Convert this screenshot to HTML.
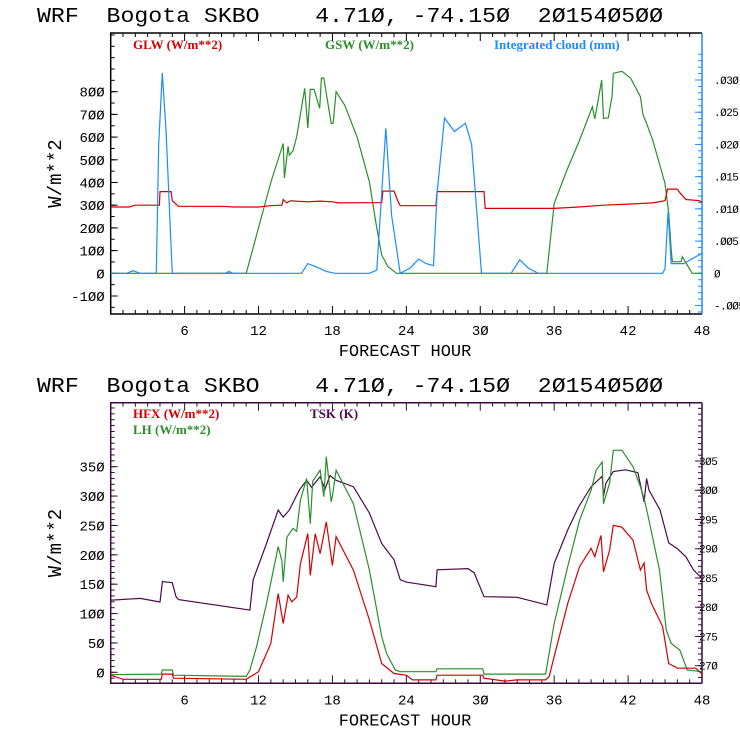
<!DOCTYPE html>
<html><head><meta charset="utf-8"><style>
html,body{margin:0;padding:0;background:#fff;}
svg{display:block;}
.t{font-family:"Liberation Mono",monospace;font-size:21px;fill:#000;white-space:pre;}
.tk{font-family:"Liberation Mono",monospace;font-size:14px;fill:#000;}
.tr{font-family:"Liberation Mono",monospace;font-size:11px;fill:#000;letter-spacing:-0.5px;}
.lg{font-family:"Liberation Serif",serif;font-size:13px;font-weight:bold;}
</style></head><body>
<svg id="c" width="740" height="740" xmlns="http://www.w3.org/2000/svg"></svg>
<script>
// ---- top panel data ----
const glwHours=[0,1.5,2,3.95,4.0,4.9,5.0,5.3,5.5,9,10,12,13,13.9,14,14.3,14.6,15,16,17,18,18.5,21,22,22.1,23,23.3,23.5,26.4,26.5,30.3,30.4,36,38,40,42,44,45,45.2,46,46.2,46.7,47.8,48];
const glwVals=[292,292,300,300,360,360,320,305,295,295,292,292,298,300,325,310,320,318,315,318,315,310,311,311,362,362,320,298,298,360,360,286,286,292,300,305,310,320,371,371,355,325,320,311];
const gswHours=[0,11,12,13,14,14.1,14.4,14.5,14.8,15.1,15.4,15.75,16.0,16.2,16.5,16.97,17.1,17.3,17.9,18.05,18.3,19,20,21,21.5,22,22.5,23.2,35.4,36,37,38.06,39.1,39.3,39.86,40.0,40.4,40.5,40.7,40.8,41.5,42.2,43,43.2,43.5,44,45,45.3,45.5,45.6,46.3,46.4,47.2,48];
const gswVals=[0,0,200,400,572,420,560,520,540,602,700,815,640,810,810,727,860,860,660,661,800,740,600,403,230,80,30,0,0,308,450,587,734,680,851,683,685,720,780,881,890,860,778,700,660,587,397,265,103,51,51,73,0,0];
const cloudHours=[0,1.3,1.8,2.4,3.7,3.9,4.19,4.5,4.9,5.0,9.3,9.6,9.9,15.5,16.0,16.7,17.5,18.2,21.0,21.6,22.33,22.8,23.5,24.3,25.0,25.6,26.2,26.5,27.1,27.9,28.8,29.3,30.1,32.5,33.2,33.9,34.7,44.8,45.0,45.25,45.5,46.5,48];
const cloudVals=[0,0,0.0004,0,0,0.02,0.0311,0.022,0.004,0,0,0.0003,0,0,0.0015,0.001,0.0003,0,0,0.0005,0.0225,0.009,0,0.0008,0.0022,0.0015,0.0012,0.0125,0.0241,0.022,0.0233,0.020,0,0,0.0021,0.0008,0,0,0.0007,0.0096,0.0015,0.0015,0.0031];
// ---- bottom panel data ----
const tskHours=[0,2.4,4,4.2,5,5.3,5.5,11.3,11.57,12.65,13.6,14.0,14.5,15.3,15.9,16.3,17,17.4,17.8,18.3,19.7,21,22,23,23.5,24,26.4,26.5,29,29.5,30.3,33,35.4,36,37.1,38,39,39.9,40.0,40.2,40.8,41.8,42.8,43.3,43.5,43.7,44.6,45.3,46,46.7,47.3,48];
const tskVals=[281.2,281.5,280.9,284.4,284.2,281.8,281.3,279.5,284.7,290.9,296.6,295.4,296.6,300,301.7,300.5,302.3,300.2,302.5,301.7,300.6,296.1,290.9,288.1,284.7,284.3,283.5,286.4,286.6,285.9,281.8,281.7,280.4,287.5,293.2,297.2,300.6,302.4,299,301.2,303.2,303.5,303,298,302,300,296.6,291,290,288.6,286.4,284.9];
const lhHours=[0,4.1,4.2,5,5.1,11,11.3,11.84,12.65,13.6,13.9,14.0,14.3,14.8,15.1,15.4,15.9,16.2,16.4,17,17.3,17.5,17.9,18.0,18.3,19.7,21,22,22.4,23.1,23.5,26.4,26.5,30.2,30.3,35.3,36,37.1,38.06,39.0,39.4,39.9,40.0,40.5,40.8,41.5,42.4,43,43.3,43.7,44.55,45.1,45.5,46.2,46.8,48];
const lhVals=[-4,-3,4,4,-5,-7,4,44,117,214,190,154,230,245,240,293,330,253,325,344,299,367,290,300,344,287,174,61,32,4,1,1,6,6,-3,-3,83,180,259,310,344,358,287,322,378,378,350,316,296,259,174,72,49,38,4,1];
const hfxHours=[0,1,3,4.1,4.2,5,5.1,11,12,13,13.6,14.0,14.4,14.7,15.1,15.4,16,16.2,16.6,17,17.5,18.0,18.3,19.7,21,22,23,24,24.5,26.4,26.5,30.2,30.3,32,33,35.3,35.6,36,37.1,38.06,39,39.3,39.8,40.0,40.5,40.8,41.5,42.4,43,43.3,43.5,43.9,44.8,45.3,46,47.5,48];
const hfxVals=[-5,-12,-12,-12,-3,-3,-10,-12,1,49,134,83,131,120,128,185,236,165,236,202,256,182,231,174,89,15,-2,-5,-13,-13,-5,-5,-10,-15,-13,-13,-7,27,117,180,211,197,233,171,208,250,247,225,174,186,140,117,78,15,7,7,-3];
const topLeftTicks=[-100,0,100,200,300,400,500,600,700,800];
const topRightTicks=[-0.005,0,0.005,0.010,0.015,0.020,0.025,0.030];
const topRightLabels=["-.005","0",".005",".010",".015",".020",".025",".030"];
const botLeftTicks=[0,50,100,150,200,250,300,350];
const botRightTicks=[270,275,280,285,290,295,300,305];
const xTicks=[6,12,18,24,30,36,42,48];

const NS="http://www.w3.org/2000/svg";
const svg=document.getElementById('c');
function mk(tag,attrs,parent){const e=document.createElementNS(NS,tag);for(const k in attrs)e.setAttribute(k,attrs[k]);(parent||svg).appendChild(e);return e;}
const L=110.7,R=702;
const x=h=>L+(R-L)*h/48;
function lin(v0,p0,v1,p1){return v=>p0+(v-v0)*(p1-p0)/(v1-v0);}
const T1=33,B1=314,T2=402.7,B2=683.3;
const yTL=lin(0,273.3,800,91.7);
const yTR=lin(0,273.3,0.030,80);
const yBL=lin(0,672.3,350,466.7);
const yBR=lin(270,665.7,305,461);

function title(y){const t=mk('text',{x:37,y:y,class:'t',textLength:626,lengthAdjust:'spacingAndGlyphs'});t.textContent="WRF  Bogota SKBO    4.71Ø, -74.15Ø  2Ø154Ø5ØØ";

}
title(22);title(392);

function series(hs,vs,yf,color,name){
  const pts=hs.map((h,i)=>x(h).toFixed(1)+','+yf(vs[i]).toFixed(1)).join(' ');
  const p=mk('polyline',{points:pts,fill:'none',stroke:color,'stroke-width':1.2});
  
  
}

function panel(T,B,boxColor,rightColor,yl,leftTicks,leftMinor,yr,rTicks,rLabels,rMinor,rlx,pname){
  const g=mk('g',{});
  
  
  for(let h=0;h<=48;h++){const len=h%6===0?8:4;
    mk('line',{x1:x(h),x2:x(h),y1:B,y2:B-len,stroke:boxColor},g);
    mk('line',{x1:x(h),x2:x(h),y1:T,y2:T+len,stroke:boxColor},g);}
  xTicks.forEach(h=>{const t=mk('text',{x:x(h),y:B+21,class:'tk','text-anchor':'middle'},g);t.textContent=String(h).replace(/0/g,'Ø');
    
    });
  leftMinor.forEach(v=>{const py=yl(v);if(py<T||py>B)return;mk('line',{x1:L,x2:L+4,y1:py,y2:py,stroke:boxColor},g);});
  leftTicks.forEach(v=>{const py=yl(v);mk('line',{x1:L,x2:L+7,y1:py,y2:py,stroke:boxColor},g);
    const t=mk('text',{x:L-6,y:py+5,class:'tk','text-anchor':'end'},g);t.textContent=String(v).replace(/0/g,'Ø');
    
    });
  rMinor.forEach(v=>{const py=yr(v);if(py<T||py>B)return;mk('line',{x1:R,x2:R-4,y1:py,y2:py,stroke:rightColor},g);});
  rTicks.forEach((v,i)=>{const py=yr(v);mk('line',{x1:R,x2:R-7,y1:py,y2:py,stroke:rightColor},g);
    const t=mk('text',{x:rlx,y:py+4,class:'tr'},g);t.textContent=rLabels[i].replace(/0/g,'Ø');
    
    });
  mk('polyline',{points:`${R},${B} ${L},${B} ${L},${T} ${R},${T}`,fill:'none',stroke:boxColor,'stroke-width':1.5},g);
  mk('line',{x1:R,x2:R,y1:T,y2:B,stroke:rightColor,'stroke-width':1.5},g);
  const xl=mk('text',{x:405,y:B+42,class:'t','text-anchor':'middle',style:'font-size:17px'},g);xl.textContent="FORECAST HOUR";
  
  
  const cy=(T+B)/2;
  const yt=mk('text',{x:0,y:0,class:'t',style:'font-size:19px','text-anchor':'middle',transform:`translate(61,${cy}) rotate(-90)`},g);yt.textContent="W/m**2";
  
  
}
const m1=[],m1r=[],m2=[],m2r=[];
for(let v=-150;v<=1050;v+=50)m1.push(v);
for(let v=-0.006;v<=0.0345;v+=0.001)m1r.push(+v.toFixed(3));
for(let v=-10;v<=460;v+=10)m2.push(v);
for(let v=268;v<=318;v+=1)m2r.push(v);
panel(T1,B1,'#000','#1a8cff',yTL,topLeftTicks,m1,yTR,topRightTicks,topRightLabels,m1r,714,'top-panel');
panel(T2,B2,'#3a0a3a','#3a0a3a',yBL,botLeftTicks,m2,yBR,botRightTicks,botRightTicks.map(String),m2r,699,'bottom-panel');

function legend(txt,lx,ly,col,name){const t=mk('text',{x:lx,y:ly,class:'lg',fill:col});t.textContent=txt;
  
  }
legend("GLW (W/m**2)",133,49,'#d40000','legend-glw');
legend("GSW (W/m**2)",325,49,'#2a8f2a','legend-gsw');
legend("Integrated cloud (mm)",494,49,'#1a8cff','legend-cloud');
legend("HFX (W/m**2)",133,418,'#d40000','legend-hfx');
legend("LH  (W/m**2)",133,434,'#2a8f2a','legend-lh');
legend("TSK (K)",310,418,'#4b0a4b','legend-tsk');

series(gswHours,gswVals,yTL,'#2a8f2a','gsw-line');
series(glwHours,glwVals,yTL,'#d40000','glw-line');
series(cloudHours,cloudVals,yTR,'#1a8cff','cloud-line');
series(tskHours,tskVals,yBR,'#4b0a4b','tsk-line');
series(lhHours,lhVals,yBL,'#2a8f2a','lh-line');
series(hfxHours,hfxVals,yBL,'#d40000','hfx-line');
</script>
</body></html>
